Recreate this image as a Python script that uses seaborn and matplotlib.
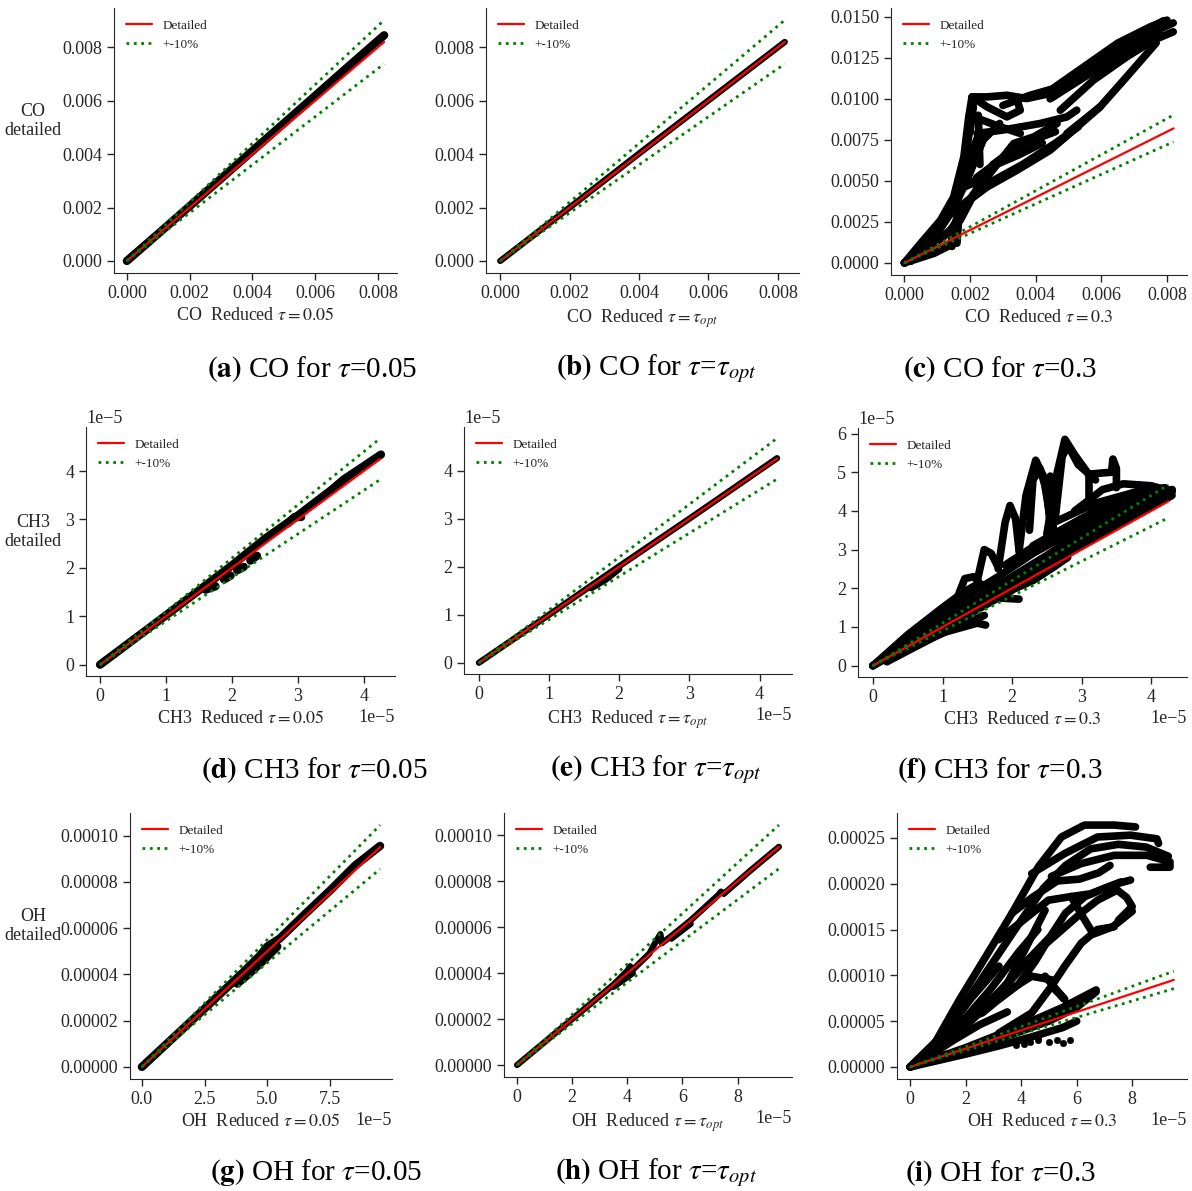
import matplotlib
matplotlib.use("Agg")
import numpy as np
import pandas as pd
import matplotlib.pyplot as plt
import seaborn as sns

# species / reductions shown in the 3x3 grid
species = ["CO", "CH3", "OH"]
unit = {"CO": 1e-3, "CH3": 1e-5, "OH": 1e-5}
ref_max = {"CO": 8.2, "CH3": 4.25, "OH": 9.5}
taus = ["0.05", "opt", "0.3"]
letters = ["a", "b", "c", "d", "e", "f", "g", "h", "i"]

# tick values per panel (in units of unit[species])
xticks = [
    [0, 2, 4, 6, 8], [0, 2, 4, 6, 8], [0, 2, 4, 6, 8],
    [0, 1, 2, 3, 4], [0, 1, 2, 3, 4], [0, 1, 2, 3, 4],
    [0, 2.5, 5, 7.5], [0, 2, 4, 6, 8], [0, 2, 4, 6, 8],
]
yticks = [
    [0, 2, 4, 6, 8], [0, 2, 4, 6, 8], [0, 2.5, 5, 7.5, 10, 12.5, 15],
    [0, 1, 2, 3, 4], [0, 1, 2, 3, 4], [0, 1, 2, 3, 4, 5, 6],
    [0, 2, 4, 6, 8, 10], [0, 2, 4, 6, 8, 10], [0, 5, 10, 15, 20, 25],
]

# reduced-vs-detailed point clouds, traced as polylines (x, y) in units of unit[species]
co_005 = [
    [(0, 0), (1, 1.02), (2, 2.05), (3, 3.08), (4, 4.12), (5, 5.15), (6, 6.18), (7, 7.22), (8.2, 8.45)],
]
co_opt = [
    [(0, 0), (2, 2.0), (4, 4.02), (6, 6.01), (8.2, 8.2)],
]
co_03 = [
    [(0, 0), (0.49, 1.18), (1.10, 2.60), (1.50, 4.02), (1.81, 6.46), (1.96, 8.90), (2.06, 10.12),
     (2.52, 10.12), (3.12, 10.22), (3.73, 10.02), (4.44, 10.33), (5.46, 11.75), (6.47, 13.17),
     (7.38, 14.19), (7.89, 14.76)],
    [(4.44, 10.22), (5.46, 11.54), (6.47, 12.76), (7.48, 13.98), (8.19, 14.63)],
    [(4.44, 10.0), (5.46, 11.3), (6.47, 12.5), (7.38, 13.6), (7.8, 13.9)],
    [(3.0, 9.6), (3.8, 10.2), (4.5, 10.6), (5.5, 12.0), (6.5, 13.4), (7.5, 14.4), (8.0, 14.8)],
    [(4.75, 9.31), (5.76, 11.14), (6.77, 12.56), (7.59, 13.58), (8.19, 14.09)],
    [(4.95, 7.89), (5.96, 9.51), (6.77, 11.34), (7.67, 13.41)],
    [(0, 0), (0.89, 0.57), (1.40, 1.08), (1.60, 2.80), (1.70, 3.41), (2.52, 4.63), (3.43, 5.65),
     (4.44, 6.87), (5.15, 8.09), (5.96, 9.51)],
    [(2.21, 7.89), (3.0, 8.1), (4.14, 8.50), (4.95, 8.90), (5.25, 9.31)],
    [(1.60, 4.43), (2.52, 5.24), (3.33, 7.28), (3.94, 7.68), (4.65, 8.50)],
    [(1.8, 3.6), (2.6, 4.9), (3.6, 6.0), (4.6, 7.3), (5.3, 8.3)],
    [(2.2, 5.2), (3.0, 6.4), (3.8, 7.4), (4.6, 8.0)],
    [(2.0, 4.8), (2.8, 6.0), (3.5, 6.6), (4.2, 7.3)],
    [(2.06, 10.12), (2.52, 9.51), (3.12, 8.90), (3.53, 9.31), (3.43, 9.92)],
    [(2.11, 8.90), (2.92, 8.29), (3.53, 7.89)],
    [(0, 0), (1.0, 2.0), (1.6, 3.8), (2.0, 6.5), (2.3, 8.0)],
    [(0, 0), (0.7, 1.3), (1.3, 2.9), (1.7, 4.8), (1.9, 7.0), (2.1, 9.5)],
    [(0, 0), (0.8, 1.0), (1.4, 2.0), (1.8, 3.2), (2.1, 4.2)],
    [(0.2, 0.1), (0.9, 1.5), (1.5, 3.3), (2.0, 5.5), (2.4, 7.5), (2.9, 8.5)],
    [(0, 0), (1.2, 1.6), (1.7, 2.6), (2.2, 4.5), (2.7, 6.0), (3.5, 7.2), (4.4, 8.0)],
    [(2.0, 8.0), (2.1, 9.9)],
    [(2.3, 6.0), (2.25, 9.0)],
    [(1.45, 1.0), (1.5, 2.2)],
    [(1.6, 1.2), (1.65, 2.6)],
]
ch3_005 = [
    [(0, 0), (1, 1.02), (2, 2.05), (2.5, 2.6), (3, 3.08), (3.5, 3.6), (3.7, 3.83), (4.0, 4.1), (4.26, 4.34)],
    [(1.6, 1.55), (1.75, 1.62)],
    [(1.88, 1.76), (1.98, 1.84)],
    [(2.08, 1.95), (2.18, 2.02)],
    [(2.28, 2.15), (2.38, 2.25)],
    [(2.85, 2.92), (2.95, 3.05), (3.05, 3.05)],
]
ch3_opt = [
    [(0, 0), (1, 1.0), (2, 2.01), (3, 3.0), (4.25, 4.26)],
    [(1.6, 1.55), (1.8, 1.72), (2.0, 1.95)],
]
ch3_03 = [
    [(0, 0), (0.5, 0.55), (1, 1.1), (1.5, 1.6), (2, 2.15), (2.5, 2.7), (3, 3.25), (3.5, 3.8), (4, 4.3), (4.3, 4.5)],
    [(0, 0), (0.5, 0.6), (1, 1.2), (1.5, 1.75), (2, 2.3), (2.5, 2.85), (3, 3.45), (3.5, 3.95), (4, 4.4), (4.3, 4.55)],
    [(0, 0), (0.5, 0.7), (1, 1.35), (1.3, 1.75), (1.8, 2.3), (2.3, 2.9), (2.8, 3.4), (3.3, 3.9), (3.8, 4.3), (4.3, 4.55)],
    [(0, 0), (0.5, 0.5), (1, 1.0), (1.5, 1.45), (2, 1.95), (2.5, 2.55), (3, 3.1), (3.5, 3.6), (4.0, 4.1), (4.3, 4.4)],
    [(0, 0), (0.5, 0.8), (1.0, 1.5), (1.3, 1.9), (1.5, 2.1)],
    [(0.2, 0.1), (0.7, 0.6), (1.2, 1.0), (1.6, 1.3)],
    [(0.3, 0.2), (1.0, 0.85), (1.5, 1.1), (1.62, 1.05)],
    [(1.8, 1.75), (2.1, 1.72)],
    [(2.05, 2.0), (2.3, 2.2), (2.6, 2.55), (2.8, 2.8)],
    [(1.2, 1.7), (1.32, 2.25), (1.45, 2.3), (1.55, 2.1), (1.7, 2.05)],
    [(1.5, 2.2), (1.6, 3.0), (1.7, 2.9), (1.8, 2.55)],
    [(1.8, 2.5), (1.9, 3.7), (1.97, 4.14), (2.05, 3.8), (2.1, 3.0)],
    [(2.1, 2.95), (2.2, 4.4), (2.34, 5.31), (2.45, 4.9), (2.55, 3.8), (2.6, 3.4)],
    [(2.25, 3.5), (2.3, 4.8), (2.4, 5.1), (2.5, 4.5), (2.55, 3.6)],
    [(2.5, 3.4), (2.65, 5.0), (2.76, 5.85), (2.9, 5.45), (3.1, 4.95), (3.43, 5.0), (3.45, 5.34), (3.5, 5.1), (3.5, 4.6)],
    [(2.62, 3.8), (2.72, 5.4), (2.8, 5.7), (2.95, 5.2), (3.2, 4.8)],
    [(2.55, 4.9), (2.6, 3.3)],
    [(3.1, 4.95), (3.1, 4.1)],
    [(2.9, 4.0), (3.3, 4.55), (3.6, 4.7), (4.0, 4.65), (4.3, 4.5)],
    [(1.9, 2.6), (2.5, 3.3), (3.0, 3.8), (3.6, 4.2), (4.2, 4.5)],
    [(2.6, 3.7), (3.2, 4.2), (3.8, 4.5), (4.2, 4.6)],
    [(2.3, 3.1), (2.8, 3.6), (3.3, 4.1), (3.8, 4.35), (4.2, 4.45)],
]
oh_005 = [
    [(0, 0), (2.5, 2.52), (4.0, 4.05), (4.7, 4.8), (5.0, 5.2), (5.5, 5.55), (6.5, 6.6), (7.5, 7.62), (8.5, 8.7), (9.5, 9.55)],
    [(3.8, 3.6), (4.3, 4.05), (4.9, 4.65), (5.4, 5.2)],
]
oh_opt = [
    [(0, 0), (3.5, 3.5), (4.0, 4.1), (4.1, 4.3), (4.2, 4.15), (4.8, 4.85), (5.0, 5.3), (5.2, 5.7), (5.25, 5.3),
     (5.6, 5.62), (6.3, 6.3), (7.3, 7.4), (7.4, 7.55), (7.5, 7.45), (8.5, 8.5), (9.5, 9.5)],
    [(3.5, 3.4), (4.2, 4.0)],
    [(5.6, 5.5), (6.3, 6.15)],
]
oh_03 = [
    [(0, 0), (0.83, 2.28), (1.78, 7.36), (2.73, 12.07), (3.67, 16.78), (4.62, 21.85), (5.45, 25.1),
     (6.28, 26.4), (7.35, 26.4), (8.12, 26.2)],
    [(0, 0), (1.0, 3.0), (2.0, 7.0), (3.0, 11.5), (4.0, 16.0), (4.8, 19.5), (5.6, 22.0), (6.5, 23.8),
     (7.5, 24.3), (8.5, 24.0), (9.3, 23.0)],
    [(4.38, 21.1), (5.57, 23.3), (6.75, 25.1), (7.94, 25.3), (8.89, 24.9), (8.95, 24.4)],
    [(5.09, 20.8), (6.16, 22.2), (7.35, 23.1), (8.53, 23.1), (9.36, 22.4), (9.36, 21.8), (8.65, 21.8)],
    [(3.67, 16.78), (4.4, 18.5), (5.3, 20.3), (6.1, 20.5), (6.8, 21.2), (7.2, 22.0)],
    [(3.2, 13.9), (4.98, 18.2), (5.8, 18.6), (6.5, 18.9), (7.46, 20.0), (7.94, 20.4)],
    [(5.8, 18.6), (6.2, 16.5), (6.6, 14.5), (7.3, 15.3), (8.0, 17.0)],
    [(7.46, 19.3), (7.8, 18.5), (8.0, 17.5), (7.5, 16.0)],
    [(4.86, 17.1), (4.0, 12.0), (3.2, 7.4)],
    [(1.07, 1.9), (2.25, 5.5), (3.44, 8.8), (4.38, 12.1), (5.33, 14.6), (6.16, 16.8), (6.75, 18.2), (7.46, 19.3)],
    [(0, 0), (0.9, 2.0), (1.9, 5.0), (2.9, 8.5), (3.9, 12.5), (4.6, 15.0)],
    [(3.2, 7.4), (3.9, 9.0), (4.5, 11.5), (5.0, 14.0), (5.6, 16.8), (6.3, 18.6), (7.0, 19.5), (7.6, 20.2)],
    [(3.2, 3.7), (4.38, 5.9), (5.09, 8.8), (5.57, 11.0), (6.16, 13.5), (6.75, 15.0), (7.35, 15.3)],
    [(4.86, 9.9), (5.57, 7.36), (5.2, 8.5)],
    [(0, 0), (2, 2.1), (4, 4.5), (5.5, 6.5), (6.7, 8.4)],
    [(0, 0), (2, 1.8), (4, 3.9), (5, 5.0), (6, 6.5), (6.7, 8.2)],
    [(0, 0), (2, 1.4), (3.2, 2.3), (4.4, 3.3), (5.5, 4.3), (6, 5.0)],
    [(0.5, 0.8), (1.5, 2.8), (2.5, 4.6), (3.5, 6.0)],
    [(0.83, 2.3), (1.42, 4.1), (2.0, 5.2), (2.6, 5.9), (3.2, 7.4), (3.8, 8.8), (4.38, 9.9), (5.1, 9.5)],
    [(0, 0), (1.2, 3.5), (2.2, 7.5), (3.2, 11.0)],
    [(0, 0), (1.5, 3.0), (2.6, 6.2), (3.6, 9.5), (4.5, 12.5), (5.3, 15.0)],
]
oh_03_dots = [(3.8, 2.4), (4.1, 2.5), (4.3, 2.7), (4.6, 3.3), (4.6, 2.9), (5.0, 2.7), (5.3, 2.9), (5.5, 2.6), (5.75, 2.9)]

clouds = [co_005, co_opt, co_03, ch3_005, ch3_opt, ch3_03, oh_005, oh_opt, oh_03]

sns.set_style("ticks")
plt.rcParams["font.family"] = ["Liberation Serif", "DejaVu Serif"]
plt.rcParams["mathtext.fontset"] = "stix"

W, H = 1192, 1191
fig = plt.figure(figsize=(W / 100, H / 100), dpi=100)

# axes boxes in pixels: left, top, right, bottom
boxes = [
    (114, 8, 397, 273), (486, 8, 799, 273), (891, 8, 1187, 275),
    (86, 427, 395, 676), (464, 427, 792, 674), (858, 428, 1187, 677),
    (130, 813, 392, 1079), (504, 813, 792, 1077), (897, 813, 1187, 1079),
]
caption_xy = [(312, 369), (656, 369), (1000, 369),
              (314, 770), (656, 770), (1000, 770),
              (316, 1173), (656, 1173), (1000, 1173)]
ylabel_y = [121, 532, 926]

for k in range(9):
    sp = species[k // 3]
    tau = taus[k % 3]
    u = unit[sp]
    l, t, r, b = boxes[k]
    ax = fig.add_axes([l / W, 1 - b / H, (r - l) / W, (b - t) / H])

    rows = []
    for ci, curve in enumerate(clouds[k]):
        for x, y in curve:
            rows.append({"x": x * u, "y": y * u, "curve": ci})
    df = pd.DataFrame(rows)
    lw = 5.5 if tau == "0.3" else (6 if tau == "0.05" else 4.5)
    sns.lineplot(data=df, x="x", y="y", units="curve", estimator=None, sort=False,
                 color="black", lw=lw, solid_capstyle="round", solid_joinstyle="round",
                 legend=False, ax=ax)
    if k == 8:
        dots = pd.DataFrame({"x": [p[0] * u for p in oh_03_dots], "y": [p[1] * u for p in oh_03_dots]})
        sns.scatterplot(data=dots, x="x", y="y", color="black", s=22, edgecolor="black", ax=ax)

    m = ref_max[sp] * u
    ref, = ax.plot([0, m], [0, m], color="red", lw=1.6, label="Detailed")
    band, = ax.plot([0, m], [0, 1.1 * m], color="green", lw=2, ls=":", label="+-10%")
    ax.plot([0, m], [0, 0.9 * m], color="green", lw=2, ls=":")

    ax.legend(handles=[ref, band], loc="upper left", frameon=False, fontsize=9.5)

    ax.set_xticks([v * u for v in xticks[k]])
    ax.set_yticks([v * u for v in yticks[k]])

    if tau == "opt":
        xl = rf"{sp}  Reduced $\tau=\tau_{{opt}}$"
        cap = rf"$\mathbf{{({letters[k]})}}$ {sp} for $\tau$=$\tau_{{opt}}$"
    else:
        xl = rf"{sp}  Reduced $\tau={tau}$"
        cap = rf"$\mathbf{{({letters[k]})}}$ {sp} for $\tau$={tau}"
    ax.set_xlabel(xl, fontsize=13)
    ax.set_ylabel("")
    ax.tick_params(labelsize=13, length=5, width=1)
    ax.xaxis.get_offset_text().set_fontsize(13)
    ax.yaxis.get_offset_text().set_fontsize(13)
    sns.despine(ax=ax)

    fig.text(caption_xy[k][0] / W, 1 - caption_xy[k][1] / H, cap,
             ha="center", va="center", fontsize=21, color="black")

    if k % 3 == 0:
        fig.text(33 / W, 1 - ylabel_y[k // 3] / H, f"{sp}\ndetailed",
                 ha="center", va="center", fontsize=13, linespacing=1.15)

fig.savefig("out.png", dpi=100)
